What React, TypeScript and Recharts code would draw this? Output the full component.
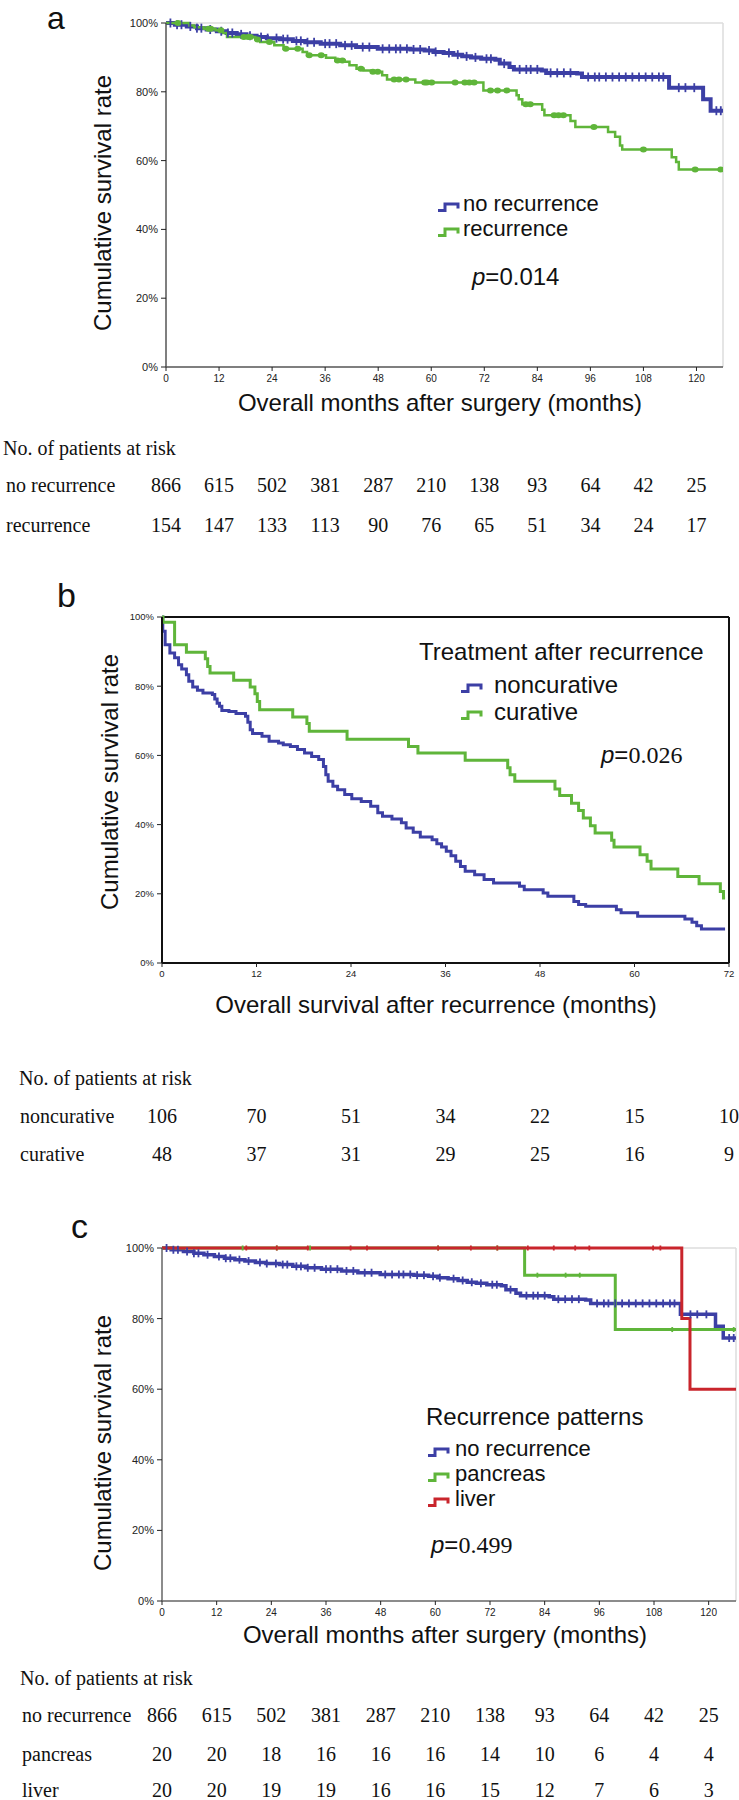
import React from "react";
import { ComposedChart, Line, Scatter, XAxis, YAxis, ReferenceLine } from "recharts";

const SANS = '"Liberation Sans", Arial, sans-serif';
const SERIF = '"Liberation Serif", "Times New Roman", serif';

const BLUE = "#3c3fa5";
const GREEN = "#5fb53a";
const RED = "#c9252c";

const PCT_TICKS = [0, 20, 40, 60, 80, 100];
const MONTHS_SURGERY = [0, 12, 24, 36, 48, 60, 72, 84, 96, 108, 120];
const MONTHS_RECUR = [0, 12, 24, 36, 48, 60, 72];

// no recurrence cohort (used in a and c)
const NO_REC_T = [0, 2, 4.7, 7, 9.2, 11.5, 13.7, 16, 18.2, 20.5, 22.8, 25.8, 28.7, 31.5, 35, 39.4, 43, 47.9, 55.3, 58.5, 60.5, 62.8, 65, 67, 69, 71.3, 74.5, 75.5, 77.7, 78.7, 85, 86, 93, 94.1, 113.8, 121.5, 123.2, 126];
const NO_REC_S = [100, 99.5, 99, 98.5, 98.1, 97.6, 97.1, 96.7, 96.3, 95.9, 95.6, 95.3, 94.8, 94.4, 94, 93.5, 93, 92.5, 92.3, 92, 91.6, 91.3, 90.8, 90.3, 90, 89.6, 89.3, 88.2, 87.2, 86.5, 86.2, 85.5, 85.3, 84.3, 81.2, 77.8, 74.5, 74.5];
const NO_REC_CENSOR = [1, 2.5, 3.5, 5.5, 7, 8, 10, 12.5, 14, 15, 17, 19, 21.5, 23, 25, 26.5, 27.5, 29.5, 30.5, 32, 33.5, 36, 37, 38.5, 40.5, 42, 44.5, 46, 49, 50.5, 52, 53, 54.5, 56, 57.5, 59.5, 61, 64, 66, 68, 70, 72.5, 73.5, 76.5, 80, 81.5, 82.5, 84, 87, 88.5, 90, 91.5, 95.5, 97, 98, 99.5, 101, 102.5, 104, 105.5, 107, 108.5, 110, 111.5, 112.5, 116, 117.5, 119.5, 124.5, 125.5];

// recurrence (a)
const REC_T = [0, 5.3, 6.4, 8.5, 11.2, 12.8, 13.8, 20.2, 21.3, 24.5, 26.6, 30.9, 31.9, 36.2, 38.3, 40.4, 41.5, 43.1, 44.7, 46.8, 48.9, 50, 56.4, 71.8, 79.3, 79.8, 80.6, 85.1, 85.6, 91.5, 92.6, 100, 101.6, 102.7, 103.2, 114.4, 115.4, 116, 126];
const REC_S = [100, 99.3, 98.8, 98.3, 97.9, 97.1, 95.9, 95.2, 94.5, 93.5, 92.5, 91.6, 90.6, 89.9, 89.1, 88.7, 87.7, 86.7, 86.2, 85.8, 84.8, 83.6, 82.7, 80.4, 79, 77.8, 76.4, 74.8, 73.2, 71.5, 69.8, 68.3, 66.9, 64.4, 63.2, 61, 59.6, 57.4, 57.4];
const REC_CENSOR = [2.7, 9.6, 10.1, 12.4, 17.6, 18.6, 19.1, 20.7, 23.4, 27.1, 29.8, 32.4, 35.1, 38.8, 39.9, 44.1, 46.8, 47.9, 51.6, 52.7, 54.3, 58.5, 59, 60.1, 65.4, 67.6, 68.6, 69.7, 73.4, 75, 77.1, 81.4, 82.4, 87.8, 88.8, 89.9, 96.8, 108, 119.7, 125.5];

// treatment after recurrence (b)
const NONCUR_T = [0, 0.1, 0.4, 1.0, 1.6, 2.1, 2.5, 3.1, 3.4, 3.9, 4.5, 5.2, 6.4, 6.7, 7.0, 7.3, 7.6, 8.5, 9.4, 10.6, 10.9, 11.2, 11.5, 12.7, 13.6, 14.8, 15.4, 16.3, 17.2, 18.1, 19.0, 19.9, 20.5, 20.8, 21.1, 21.7, 22.3, 23.2, 24.1, 25.3, 26.5, 27.4, 28.0, 29.2, 30.4, 31.0, 31.9, 32.8, 34.3, 34.9, 35.5, 36.1, 36.7, 37.3, 37.9, 38.5, 39.7, 40.9, 42.1, 45.4, 46.0, 48.4, 49.0, 52.3, 52.9, 53.8, 57.7, 58.3, 60.4, 66.4, 67.3, 67.9, 68.5, 71.5];
const NONCUR_S = [100, 95.9, 92, 89.6, 88.2, 86.2, 85, 83.3, 81.4, 79.8, 78.8, 78, 77.6, 76.3, 75.1, 74.2, 73, 72.7, 72.1, 71.3, 69.6, 67.4, 66.3, 65.5, 64.1, 63.6, 63.1, 62.6, 61.7, 60.7, 59.7, 58.8, 56.8, 54.4, 52.5, 51.1, 50.1, 48.7, 47.5, 46.7, 45.3, 43.4, 42.4, 41.6, 40.5, 39, 37.8, 36.4, 35.6, 34.5, 33.5, 32.3, 31, 29.4, 27.9, 26.5, 25.5, 24.1, 23.1, 22.2, 21.2, 20.2, 19.3, 17.8, 16.9, 16.4, 15.4, 14.5, 13.5, 12.7, 11.8, 10.8, 9.8, 9.8];
const CUR_T = [0, 0.12, 1.6, 3.1, 5.5, 5.8, 6.1, 9.1, 11.2, 11.8, 12.1, 12.4, 16.6, 18.4, 18.7, 23.5, 31.3, 32.5, 38.5, 43.9, 44.2, 44.8, 49.9, 50.5, 52, 52.9, 53.5, 54.4, 55, 57.1, 57.4, 60.7, 61.6, 62.1, 65.5, 68.2, 70.9, 71.3, 71.5];
const CUR_S = [100, 98.5, 92, 89.8, 87.9, 85.7, 83.8, 81.7, 79.8, 77.8, 75.6, 73.2, 71.1, 69.2, 67, 64.7, 62.6, 60.7, 58.6, 56.4, 54.4, 52.5, 50.3, 48.4, 46.2, 44.1, 41.9, 39.7, 37.6, 35.5, 33.5, 31.3, 29.4, 27.2, 25, 22.9, 20.7, 18.8, 18.8];

// recurrence patterns (c)
const PANC_T = [0, 79.6, 99.5, 126];
const PANC_S = [100, 92.3, 76.9, 76.9];
const PANC_CENSOR = [17.7, 25.2, 32.5, 60.6, 73.6, 82.4, 88.6, 91.7, 112, 125.5];
const LIVER_T = [0, 114.1, 115.9, 126];
const LIVER_S = [100, 80, 60, 60];
const LIVER_CENSOR = [18.5, 25.2, 32, 41.4, 45, 60.6, 67.8, 73.6, 80.3, 86, 90.7, 93.8, 107.8, 109.4];

// numbers at risk
const RISK_NO_REC = [866, 615, 502, 381, 287, 210, 138, 93, 64, 42, 25];
const RISK_REC = [154, 147, 133, 113, 90, 76, 65, 51, 34, 24, 17];
const RISK_NONCUR = [106, 70, 51, 34, 22, 15, 10];
const RISK_CUR = [48, 37, 31, 29, 25, 16, 9];
const RISK_PANC = [20, 20, 18, 16, 16, 16, 14, 10, 6, 4, 4];
const RISK_LIVER = [20, 20, 19, 19, 16, 16, 15, 12, 7, 6, 3];

const pts = (t: number[], s: number[]) => t.map((x, i) => ({ t: x, s: s[i] }));
const stepAt = (t: number[], s: number[], x: number) => {
  let v = s[0];
  for (let i = 0; i < t.length; i++) if (t[i] <= x) v = s[i];
  return v;
};
const censor = (c: number[], t: number[], s: number[]) => c.map((x) => ({ t: x, s: stepAt(t, s, x) }));

type Series = {
  t: number[];
  s: number[];
  color: string;
  width: number;
  censor?: number[];
  mark?: "dot" | "tick";
  markH?: number;
};
type Row = { values: number[]; y: number };

interface PanelProps {
  top: number;
  height: number;
  margin: { top: number; right: number; left: number; bottom: number };
  xMax: number;
  xTicks: number[];
  series: Series[];
  rows: Row[];
  axisColor: string;
  axisWidth: number;
  frameColor: string;
  frameWidth: number;
  yTickSize: number;
  xTickSize: number;
}

function KMPanel(p: PanelProps) {
  const xTick = (props: any) => {
    const { x, y, payload } = props;
    const i = p.xTicks.indexOf(payload.value);
    return (
      <g>
        <text x={x} y={y} dy="0.75em" textAnchor="middle" fontSize={p.xTickSize} fill="#222" fontFamily={SANS}>
          {payload.value}
        </text>
        {p.rows.map((r, k) => (
          <text key={k} x={x} y={r.y} textAnchor="middle" fontSize={20} fill="#111" fontFamily={SERIF}>
            {r.values[i]}
          </text>
        ))}
      </g>
    );
  };

  return (
    <div style={{ position: "absolute", left: 0, top: p.top }}>
      <ComposedChart width={739} height={p.height} margin={p.margin}>
        <XAxis
          type="number"
          dataKey="t"
          domain={[0, p.xMax]}
          ticks={p.xTicks}
          interval={0}
          allowDataOverflow
          height={20}
          tickSize={4}
          tickMargin={3}
          axisLine={{ stroke: p.axisColor, strokeWidth: p.axisWidth }}
          tickLine={{ stroke: "#222" }}
          tick={xTick}
        />
        <YAxis
          type="number"
          dataKey="s"
          domain={[0, 100]}
          ticks={PCT_TICKS}
          interval={0}
          width={50}
          tickSize={5}
          tickMargin={3}
          axisLine={{ stroke: p.axisColor, strokeWidth: p.axisWidth }}
          tickLine={{ stroke: "#222" }}
          tick={{ fontSize: p.yTickSize, fill: "#222", fontFamily: SANS }}
          tickFormatter={(v) => `${v}%`}
        />
        <ReferenceLine y={100} stroke={p.frameColor} strokeWidth={p.frameWidth} />
        <ReferenceLine x={p.xMax} stroke={p.frameColor} strokeWidth={p.frameWidth} />
        {p.series.map((s, k) => (
          <Line
            key={`l${k}`}
            data={pts(s.t, s.s)}
            dataKey="s"
            type="stepAfter"
            stroke={s.color}
            strokeWidth={s.width}
            dot={false}
            activeDot={false}
            isAnimationActive={false}
          />
        ))}
        {p.series
          .filter((s) => s.censor)
          .map((s, k) => (
            <Scatter
              key={`c${k}`}
              data={censor(s.censor!, s.t, s.s)}
              dataKey="s"
              fill={s.color}
              isAnimationActive={false}
              shape={(props: any) => {
                const h = s.markH ?? 8;
                return s.mark === "dot" ? (
                  <ellipse cx={props.cx} cy={props.cy} rx={3.5} ry={3} fill={s.color} />
                ) : (
                  <rect x={props.cx - 0.9} y={props.cy - h / 2} width={1.8} height={h} fill={s.color} />
                );
              }}
            />
          ))}
      </ComposedChart>
    </div>
  );
}

// text placed by its baseline; lh = line box height
function Txt({ x, base, size, serif, center, lh, children }: any) {
  const asc = serif ? 0.891 : 0.905;
  const desc = serif ? 0.216 : 0.212;
  const L = lh ?? size;
  const off = (L - (asc + desc) * size) / 2 + asc * size;
  return (
    <div
      style={{
        position: "absolute",
        left: x,
        top: base - off,
        fontSize: size,
        lineHeight: `${L}px`,
        height: L,
        fontFamily: serif ? SERIF : SANS,
        whiteSpace: "nowrap",
        color: "#111",
        transform: center ? "translateX(-50%)" : undefined,
      }}
    >
      {children}
    </div>
  );
}

function YLabel({ cx, cy }: { cx: number; cy: number }) {
  return (
    <div
      style={{
        position: "absolute",
        left: cx,
        top: cy,
        fontSize: 24,
        lineHeight: "24px",
        fontFamily: SANS,
        whiteSpace: "nowrap",
        color: "#111",
        transform: "translate(-50%, -50%) rotate(-90deg)",
      }}
    >
      Cumulative survival rate
    </div>
  );
}

function Glyph({ x, base, color }: { x: number; base: number; color: string }) {
  return (
    <svg style={{ position: "absolute", left: x, top: base - 10 }} width={24} height={11}>
      <path d="M1 8.5 H8 V2 H21 V6.5" fill="none" stroke={color} strokeWidth={3} />
    </svg>
  );
}

function PValue({ x, base, value, serif }: { x: number; base: number; value: string; serif: boolean }) {
  return (
    <Txt x={x} base={base} size={24} lh={20}>
      <span style={{ fontStyle: "italic" }}>p</span>=
      <span style={{ fontFamily: serif ? SERIF : SANS }}>{value}</span>
    </Txt>
  );
}

export default function App() {
  return (
    <div style={{ position: "absolute", left: 0, top: 0, width: 739, height: 1800, background: "#fff", overflow: "hidden" }}>
      {/* a */}
      <KMPanel
        top={0}
        height={545}
        margin={{ top: 23, right: 16, left: 116, bottom: 158 }}
        xMax={126}
        xTicks={MONTHS_SURGERY}
        series={[
          { t: NO_REC_T, s: NO_REC_S, color: BLUE, width: 4, censor: NO_REC_CENSOR, mark: "tick", markH: 9 },
          { t: REC_T, s: REC_S, color: GREEN, width: 2.5, censor: REC_CENSOR, mark: "dot" },
        ]}
        rows={[
          { values: RISK_NO_REC, y: 492 },
          { values: RISK_REC, y: 532 },
        ]}
        axisColor="#555"
        axisWidth={1.5}
        frameColor="#dcdcdc"
        frameWidth={1.5}
        yTickSize={11}
        xTickSize={10}
      />
      {/* b */}
      <KMPanel
        top={560}
        height={620}
        margin={{ top: 57, right: 10, left: 112, bottom: 197 }}
        xMax={72}
        xTicks={MONTHS_RECUR}
        series={[
          { t: NONCUR_T, s: NONCUR_S, color: BLUE, width: 3 },
          { t: CUR_T, s: CUR_S, color: GREEN, width: 3 },
        ]}
        rows={[
          { values: RISK_NONCUR, y: 563 },
          { values: RISK_CUR, y: 601 },
        ]}
        axisColor="#111"
        axisWidth={2}
        frameColor="#111"
        frameWidth={2}
        yTickSize={9.5}
        xTickSize={9.5}
      />
      {/* c */}
      <KMPanel
        top={1200}
        height={600}
        margin={{ top: 48, right: 3, left: 112, bottom: 179 }}
        xMax={126}
        xTicks={MONTHS_SURGERY}
        series={[
          { t: NO_REC_T, s: NO_REC_S, color: BLUE, width: 3.5, censor: NO_REC_CENSOR, mark: "tick", markH: 8 },
          { t: PANC_T, s: PANC_S, color: GREEN, width: 3, censor: PANC_CENSOR, mark: "tick", markH: 5 },
          { t: LIVER_T, s: LIVER_S, color: RED, width: 3, censor: LIVER_CENSOR, mark: "tick", markH: 5 },
        ]}
        rows={[
          { values: RISK_NO_REC, y: 522 },
          { values: RISK_PANC, y: 561 },
          { values: RISK_LIVER, y: 597 },
        ]}
        axisColor="#666"
        axisWidth={1.5}
        frameColor="#dcdcdc"
        frameWidth={1.5}
        yTickSize={11}
        xTickSize={10}
      />

      {/* panel a text */}
      <Txt x={47} base={29.5} size={32}>a</Txt>
      <YLabel cx={103} cy={203} />
      <Glyph x={437} base={212} color={BLUE} />
      <Txt x={463} base={212} size={22}>no recurrence</Txt>
      <Glyph x={437} base={237} color={GREEN} />
      <Txt x={463} base={237} size={22}>recurrence</Txt>
      <PValue x={472} base={285} value="0.014" serif={false} />
      <Txt x={440} base={411} size={24} center>Overall months after surgery (months)</Txt>
      <Txt x={3} base={455} size={20} serif>No. of patients at risk</Txt>
      <Txt x={6} base={492} size={20} serif>no recurrence</Txt>
      <Txt x={6} base={532} size={20} serif>recurrence</Txt>

      {/* panel b text */}
      <Txt x={57} base={607} size={34}>b</Txt>
      <YLabel cx={110} cy={782} />
      <Txt x={419} base={660} size={24}>Treatment after recurrence</Txt>
      <Glyph x={460} base={693} color={BLUE} />
      <Txt x={494} base={693} size={24}>noncurative</Txt>
      <Glyph x={460} base={720} color={GREEN} />
      <Txt x={494} base={720} size={24}>curative</Txt>
      <PValue x={601} base={763} value="0.026" serif />
      <Txt x={436} base={1013} size={24} center>Overall survival after recurrence (months)</Txt>
      <Txt x={19} base={1085} size={20} serif>No. of patients at risk</Txt>
      <Txt x={20} base={1123} size={20} serif>noncurative</Txt>
      <Txt x={20} base={1161} size={20} serif>curative</Txt>

      {/* panel c text */}
      <Txt x={71} base={1238} size={34}>c</Txt>
      <YLabel cx={103} cy={1443} />
      <Txt x={426} base={1425} size={24}>Recurrence patterns</Txt>
      <Glyph x={427} base={1457} color={BLUE} />
      <Txt x={455} base={1457} size={22}>no recurrence</Txt>
      <Glyph x={427} base={1482} color={GREEN} />
      <Txt x={455} base={1482} size={22}>pancreas</Txt>
      <Glyph x={427} base={1507} color={RED} />
      <Txt x={455} base={1507} size={22}>liver</Txt>
      <PValue x={431} base={1553} value="0.499" serif />
      <Txt x={445} base={1643} size={24} center>Overall months after surgery (months)</Txt>
      <Txt x={20} base={1685} size={20} serif>No. of patients at risk</Txt>
      <Txt x={22} base={1722} size={20} serif>no recurrence</Txt>
      <Txt x={22} base={1761} size={20} serif>pancreas</Txt>
      <Txt x={22} base={1797} size={20} serif>liver</Txt>
    </div>
  );
}
